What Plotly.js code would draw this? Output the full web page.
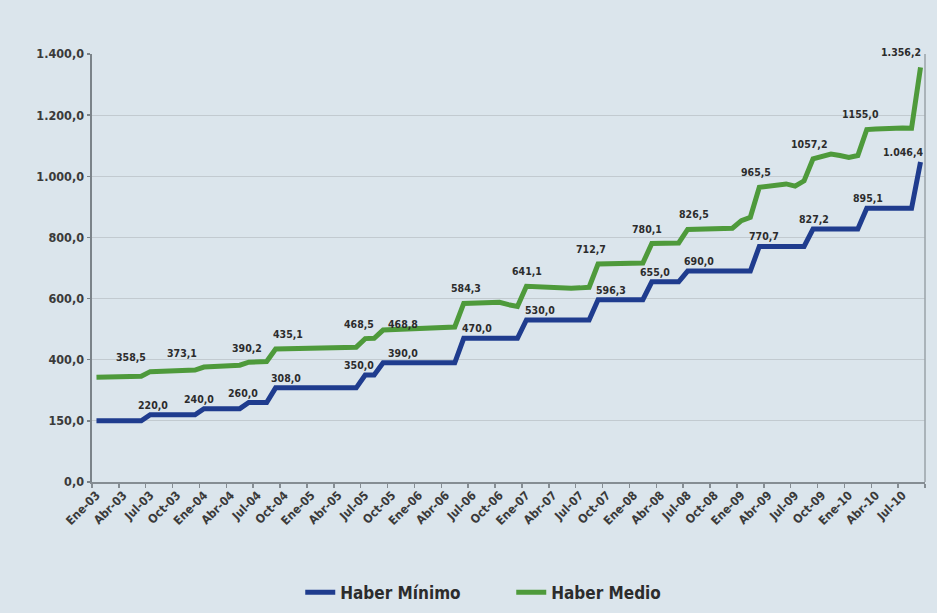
<!DOCTYPE html>
<html>
<head>
<meta charset="utf-8">
<script src="https://cdn.plot.ly/plotly-3.0.1.min.js"></script>
<style>
  html, body { margin: 0; padding: 0; background: #dbe5ec; }
  #chart { width: 937px; height: 613px; }
</style>
</head>
<body>
<div id="chart"></div>
<script>
// Monthly values, Ene-03 (index 0) to Sep-10 (index 92)
const haberMinimo = [
  200, 200, 200, 200, 200, 200,
  220, 220, 220, 220, 220, 220,
  240, 240, 240, 240, 240,
  260, 260, 260,
  308, 308, 308, 308, 308, 308, 308, 308, 308, 308,
  350, 350,
  390, 390, 390, 390, 390, 390, 390, 390, 390,
  470, 470, 470, 470, 470, 470, 470,
  530, 530, 530, 530, 530, 530, 530, 530,
  596.3, 596.3, 596.3, 596.3, 596.3, 596.3,
  655, 655, 655, 655,
  690, 690, 690, 690, 690, 690, 690, 690,
  770.7, 770.7, 770.7, 770.7, 770.7, 770.7,
  827.2, 827.2, 827.2, 827.2, 827.2, 827.2,
  895.1, 895.1, 895.1, 895.1, 895.1, 895.1,
  1046.4
];
const haberMedio = [
  343, 343, 344, 344, 345, 346,
  361, 362, 363, 364, 365, 366,
  376, 377, 378, 380, 382,
  392, 393, 394,
  435, 436, 437, 437, 438, 438, 439, 440, 440, 441,
  469, 470,
  497, 498, 500, 501, 502, 504, 505, 506, 507,
  584, 586, 588, 590, 588, 580, 574,
  640, 638, 636, 635, 634, 634, 635, 637,
  713, 714, 715, 715, 715, 716,
  780, 781, 781, 782,
  826, 826, 827, 827, 828, 830,
  855, 866,
  964, 968, 972, 975, 968, 985,
  1057, 1064, 1073, 1068, 1062, 1068,
  1153, 1155, 1157, 1158, 1158, 1157,
  1356
];
const xTickLabels = [
  'Ene-03','Abr-03','Jul-03','Oct-03',
  'Ene-04','Abr-04','Jul-04','Oct-04',
  'Ene-05','Abr-05','Jul-05','Oct-05',
  'Ene-06','Abr-06','Jul-06','Oct-06',
  'Ene-07','Abr-07','Jul-07','Oct-07',
  'Ene-08','Abr-08','Jul-08','Oct-08',
  'Ene-09','Abr-09','Jul-09','Oct-09',
  'Ene-10','Abr-10','Jul-10'
];
const yTickValues = [0, 200, 400, 600, 800, 1000, 1200, 1400];
const yTickLabels = ['0,0', '150,0', '400,0', '600,0', '800,0', '1.000,0', '1.200,0', '1.400,0'];

// Value labels and the month (index) they sit over
const medioLabels = ['358,5','373,1','390,2','435,1','468,5','468,8','584,3','641,1','712,7','780,1','826,5','965,5','1057,2','1155,0','1.356,2'];
const medioLabelAt = [3.8, 9.5, 16.8, 21.4, 29.3, 34.2, 41.2, 48.1, 55.2, 61.5, 66.7, 73.6, 79.5, 85.3, 89.8];
const minimoLabels = ['220,0','240,0','260,0','308,0','350,0','390,0','470,0','530,0','596,3','655,0','690,0','770,7','827,2','895,1','1.046,4'];
const minimoLabelAt = [6.3, 11.5, 16.4, 21.2, 29.3, 34.2, 42.5, 49.5, 57.4, 62.3, 67.3, 74.5, 80.1, 86.1, 90.0];

const FONT = 'Liberation Sans Narrow, DejaVu Sans Condensed, Arial Narrow, sans-serif';
const BLUE = '#1f3c8e';
const GREEN = '#4e9a3b';
const TXT = '#2c2c2c';

const months = haberMinimo.map((_, i) => i);
const xTickVals = xTickLabels.map((_, i) => i * 3);

function parseVal(s) { return parseFloat(s.replace(/\./g, '').replace(',', '.')); }

const annotations = [];
medioLabels.forEach((t, i) => annotations.push({
  x: medioLabelAt[i], y: parseVal(t), xref: 'x', yref: 'y', yshift: 15,
  text: t, showarrow: false, yanchor: 'middle', xanchor: 'center',
  font: { family: FONT, size: 10.5, weight: 700, color: TXT }
}));
minimoLabels.forEach((t, i) => annotations.push({
  x: minimoLabelAt[i], y: parseVal(t), xref: 'x', yref: 'y', yshift: 10,
  text: t, showarrow: false, yanchor: 'middle', xanchor: 'center',
  font: { family: FONT, size: 10.5, weight: 700, color: TXT }
}));

const traces = [
  { x: months, y: haberMinimo, type: 'scatter', mode: 'lines', name: 'Haber Mínimo',
    line: { color: BLUE, width: 5 }, hoverinfo: 'skip' },
  { x: months, y: haberMedio, type: 'scatter', mode: 'lines', name: 'Haber Medio',
    line: { color: GREEN, width: 5 }, hoverinfo: 'skip' }
];

const layout = {
  width: 937, height: 613,
  margin: { l: 92, r: 12, t: 54, b: 131, pad: 0 },
  paper_bgcolor: '#dbe5ec', plot_bgcolor: '#dbe5ec',
  font: { family: FONT, color: TXT },
  showlegend: true,
  legend: {
    orientation: 'h', x: 0.25, xanchor: 'left', y: 0.033, yref: 'container', yanchor: 'middle',
    entrywidth: 166, entrywidthmode: 'pixels',
    font: { family: FONT, size: 17, weight: 700, color: TXT },
    bgcolor: 'rgba(0,0,0,0)'
  },
  xaxis: {
    range: [-0.5, 92.5], tickmode: 'array', tickvals: xTickVals, ticktext: xTickLabels,
    tickangle: -45, ticks: '', showgrid: false, zeroline: false,
    showline: true, linecolor: '#858d93', linewidth: 1.5,
    tickfont: { family: FONT, size: 12, weight: 700, color: '#3a3a3a' },
    minor: { tickmode: 'linear', tick0: -0.5, dtick: 3, ticks: 'outside', ticklen: 4, tickwidth: 1.5, tickcolor: '#858d93', showgrid: false }
  },
  yaxis: {
    range: [0, 1400], tickmode: 'array', tickvals: yTickValues, ticktext: yTickLabels,
    showgrid: true, gridcolor: '#c2cad0', gridwidth: 1.2, zeroline: false,
    showline: true, linecolor: '#7b8389', linewidth: 2.5,
    ticks: 'outside', ticklen: 3, tickcolor: '#7b8389', tickwidth: 1.5,
    tickfont: { family: FONT, size: 12.5, weight: 700, color: '#3a3a3a' }
  },
  shapes: [
    { type: 'line', xref: 'paper', yref: 'paper', x0: 1, x1: 1, y0: 0, y1: 1,
      line: { color: '#9aa2a8', width: 1.5 } }
  ],
  annotations: annotations
};

Plotly.newPlot('chart', traces, layout, { displayModeBar: false, staticPlot: true });
</script>
</body>
</html>
